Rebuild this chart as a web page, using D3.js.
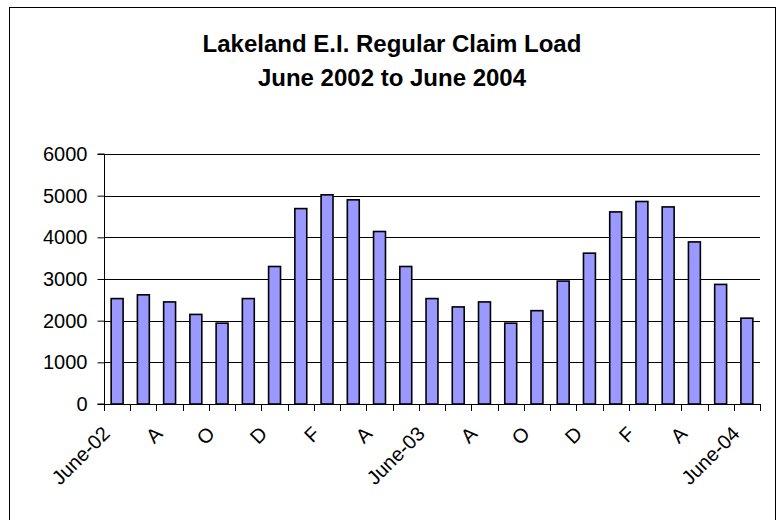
<!DOCTYPE html>
<html>
<head>
<meta charset="utf-8">
<script src="https://cdn.jsdelivr.net/npm/d3@7"></script>
<style>
  html, body { margin: 0; padding: 0; background: #fff; }
  svg { display: block; }
  text { font-family: "Liberation Sans", Arial, sans-serif; fill: #000; }
</style>
</head>
<body>
<svg id="chart" width="782" height="520"></svg>
<script>
// ---- data ----
const titleLines = ["Lakeland E.I. Regular Claim Load", "June 2002 to June 2004"];
const months = ["Jun-02","Jul-02","Aug-02","Sep-02","Oct-02","Nov-02","Dec-02","Jan-03","Feb-03","Mar-03","Apr-03","May-03",
                "Jun-03","Jul-03","Aug-03","Sep-03","Oct-03","Nov-03","Dec-03","Jan-04","Feb-04","Mar-04","Apr-04","May-04","Jun-04"];
const claims = [2530, 2620, 2450, 2150, 1940, 2530, 3300, 4690, 5020, 4900, 4140, 3300,
                2530, 2330, 2450, 1940, 2240, 2950, 3620, 4610, 4860, 4730, 3890, 2870, 2060];
const tickLabels = ["June-02","","A","","O","","D","","F","","A","",
                    "June-03","","A","","O","","D","","F","","A","","June-04"];
const yTicks = [0, 1000, 2000, 3000, 4000, 5000, 6000];

// ---- layout ----
const svg = d3.select("#chart");
const plot = { left: 104, right: 760, top: 154, bottom: 404 };

// frame
svg.append("rect")
  .attr("x", 9.5).attr("y", 7.5)
  .attr("width", 766).attr("height", 530)
  .attr("fill", "#fff").attr("stroke", "#000").attr("stroke-width", 1);

// title
svg.append("g").selectAll("text").data(titleLines).join("text")
  .attr("x", 392).attr("y", (d, i) => 52 + i * 34)
  .attr("text-anchor", "middle")
  .attr("font-size", 24).attr("font-weight", "bold")
  .text(d => d);

const x = d3.scaleBand().domain(months).range([plot.left, plot.right]).paddingInner(0).paddingOuter(0);
const y = d3.scaleLinear().domain([0, 6000]).range([plot.bottom, plot.top]);

// gridlines
svg.append("g").selectAll("line").data(yTicks.filter(d => d > 0)).join("line")
  .attr("x1", plot.left).attr("x2", plot.right)
  .attr("y1", d => Math.round(y(d)) + 0.5).attr("y2", d => Math.round(y(d)) + 0.5)
  .attr("stroke", "#000").attr("stroke-width", 1);

// bars
const bw = x.bandwidth() / 2.2;
svg.append("g").selectAll("rect").data(claims).join("rect")
  .attr("x", (d, i) => x(months[i]) + (x.bandwidth() - bw) / 2)
  .attr("y", d => y(d))
  .attr("width", bw)
  .attr("height", d => y(0) - y(d))
  .attr("fill", "#9999FF")
  .attr("stroke", "#000").attr("stroke-width", 1.6);

// y axis
const yAxis = d3.axisLeft(y).tickValues(yTicks).tickSize(7).tickPadding(10).tickFormat(d3.format("d"));
const gy = svg.append("g").attr("transform", `translate(${plot.left + 0.5},0)`).call(yAxis);
gy.select(".domain").attr("stroke", "#000").attr("d", `M-7,${plot.top}H0V${plot.bottom}H-7`);
gy.selectAll(".tick line").attr("stroke", "#000");
gy.selectAll("text").attr("font-size", 20).attr("font-family", "Liberation Sans, Arial, sans-serif");

// x axis: ticks at category boundaries
const boundaries = months.map(m => x(m)).concat([plot.right]);
svg.append("g").selectAll("line").data(boundaries).join("line")
  .attr("x1", d => Math.round(d) + 0.5).attr("x2", d => Math.round(d) + 0.5)
  .attr("y1", plot.bottom).attr("y2", plot.bottom + 7)
  .attr("stroke", "#000");
svg.append("line")
  .attr("x1", plot.left).attr("x2", plot.right)
  .attr("y1", plot.bottom + 0.5).attr("y2", plot.bottom + 0.5)
  .attr("stroke", "#000");

// x labels
svg.append("g").selectAll("text").data(months.map((m, i) => ({ m, lab: tickLabels[i] })).filter(d => d.lab))
  .join("text")
  .attr("transform", d => `translate(${x(d.m) + x.bandwidth() / 2 - 6},${plot.bottom + 31}) rotate(-45)`)
  .attr("text-anchor", "end")
  .attr("font-size", 20)
  .text(d => d.lab);
</script>
</body>
</html>
